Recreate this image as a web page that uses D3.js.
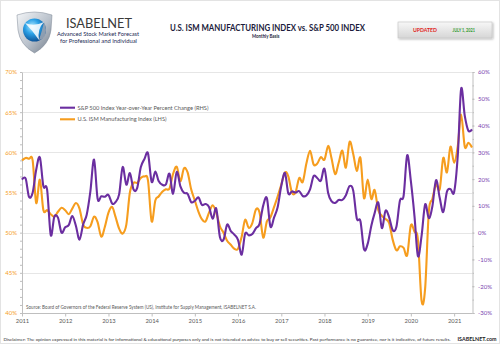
<!DOCTYPE html>
<html><head><meta charset="utf-8">
<script src="https://cdn.jsdelivr.net/npm/d3@7"></script>
<style>
html,body{margin:0;padding:0;background:#fff;}
svg{display:block;font-family:Lato,"Open Sans",sans-serif;}
</style></head><body>
<svg id="c" width="500" height="344"></svg>
<script>
// ---------------- DATA ----------------
const startMonth = "2011-01";
// U.S. ISM Manufacturing Index (LHS), monthly Jan 2011 - Jun 2021
const ismValues = [
  59.0, 59.3, 59.2, 59.0, 53.7, 56.6, 52.8, 52.8, 52.3, 52.0, 52.6, 53.1,
  52.8, 52.3, 53.0, 53.7, 53.0, 51.0, 50.6, 50.8, 52.0, 51.3, 49.5, 50.7,
  52.5, 53.2, 52.0, 50.5, 49.9, 51.0, 55.0, 56.2, 56.2, 56.8, 57.0, 56.5,
  51.4, 54.0, 54.5, 55.1, 55.4, 55.5, 57.3, 58.2, 56.4, 58.0, 57.5, 55.4,
  54.0, 52.6, 51.7, 51.4, 52.5, 53.4, 52.5, 50.8, 50.0, 49.0, 48.5, 48.0,
  48.0, 49.5, 51.6, 50.6, 51.2, 52.9, 52.5, 49.4, 51.4, 51.9, 53.2, 54.5,
  56.0, 57.5, 57.0, 55.0, 55.0, 56.8, 56.3, 58.6, 60.2, 58.5, 58.6, 59.4,
  59.1, 60.8, 59.3, 57.3, 58.7, 60.2, 58.1, 61.3, 59.8, 57.7, 59.3, 54.3,
  56.6, 54.2, 55.3, 52.8, 52.1, 51.7, 51.2, 49.1, 47.8, 48.3, 48.1, 47.2,
  50.9, 50.1, 49.1, 41.5, 43.1, 52.6, 54.2, 56.0, 55.4, 59.3, 57.5, 60.7,
  58.7, 60.8, 64.7, 60.7, 61.2, 60.6
];
// S&P 500 Index Year-over-Year Percent Change (RHS)
const spxYoY = [
  19.8, 20.2, 13.4, 14.9, 23.5, 28.1, 17.3, 16.2, -0.9, 5.9, 5.6, 0.0,
  2.0, 2.9, 6.2, 2.5, -2.6, 3.1, 6.7, 15.4, 27.3, 12.7, 13.6, 13.4,
  14.1, 10.9, 11.4, 14.3, 24.5, 17.9, 22.2, 16.1, 16.7, 24.4, 27.5, 29.6,
  19.0, 22.8, 19.3, 17.9, 18.0, 22.0, 14.5, 22.7, 17.3, 14.9, 14.5, 11.4,
  11.9, 13.2, 10.4, 10.7, 9.6, 5.2, 9.0, -1.6, -2.6, 3.0, 0.6, -0.7,
  -2.7, -8.2, -0.4, -1.0, -0.5, 1.7, 3.3, 10.1, 12.9, 2.3, 5.7, 9.5,
  17.5, 22.3, 14.7, 15.4, 15.0, 15.5, 13.7, 13.9, 16.2, 21.1, 20.4, 19.4,
  23.9, 14.8, 11.8, 11.1, 12.2, 12.2, 14.0, 17.4, 15.7, 5.3, 4.3, -6.2,
  -4.2, 2.6, 7.3, 11.2, 1.7, 8.2, 5.8, 0.9, 2.2, 12.0, 13.8, 28.9,
  19.3, 6.1, -8.8, -1.1, 10.6, 5.4, 9.8, 19.6, 13.0, 7.7, 15.3, 16.3,
  15.2, 29.0, 53.7, 43.6, 38.1, 38.6
];
const yearLabels = ["2011","2012","2013","2014","2015","2016","2017","2018","2019","2020","2021"];
const leftTicks = [40, 45, 50, 55, 60, 65, 70];
const rightTicks = [-30, -20, -10, 0, 10, 20, 30, 40, 50, 60];
const seriesNames = ["S&P 500 Index Year-over-Year Percent Change (RHS)", "U.S. ISM Manufacturing Index (LHS)"];

// ---------------- DRAW ----------------
const svg = d3.select("#c");
const ORANGE = "#f69d1e", PURPLE = "#6b2ea0", AXIS = "#bfbfbf", TXT = "#595959";
const parse = d3.timeParse("%Y-%m");
const d0 = parse(startMonth);
const dates = d3.timeMonth.range(d0, d3.timeMonth.offset(d0, ismValues.length));
const x = d3.scaleTime().domain([d0, dates[dates.length - 1]]).range([22, 472]);
const yL = d3.scaleLinear().domain([40, 70]).range([313, 72]);
const yR = d3.scaleLinear().domain([-30, 60]).range([313, 72]);

const defs = svg.append("defs");
const g1 = defs.append("linearGradient").attr("id","shield").attr("x1",0).attr("y1",0).attr("x2",1).attr("y2",1);
g1.append("stop").attr("offset","0%").attr("stop-color","#f4f6f8");
g1.append("stop").attr("offset","55%").attr("stop-color","#b9c1cb");
g1.append("stop").attr("offset","100%").attr("stop-color","#6f7a88");
const g2 = defs.append("radialGradient").attr("id","ball").attr("cx","40%").attr("cy","35%").attr("r","70%");
g2.append("stop").attr("offset","0%").attr("stop-color","#b5ecff");
g2.append("stop").attr("offset","45%").attr("stop-color","#2aa0e6");
g2.append("stop").attr("offset","100%").attr("stop-color","#0a4a8e");
const g3 = defs.append("linearGradient").attr("id","upd").attr("x1",0).attr("y1",0).attr("x2",0).attr("y2",1);
g3.append("stop").attr("offset","0%").attr("stop-color","#f7f7f7");
g3.append("stop").attr("offset","100%").attr("stop-color","#d6d6d6");
const f = defs.append("filter").attr("id","sh").attr("x","-10%").attr("y","-20%").attr("width","130%").attr("height","160%");
f.append("feDropShadow").attr("dx",1).attr("dy",1).attr("stdDeviation",0.8).attr("flood-color","#000").attr("flood-opacity",0.3);

// outer frame
svg.append("rect").attr("x",0.5).attr("y",0.5).attr("width",499).attr("height",343).attr("fill","none").attr("stroke","#e3e3e3");

// logo
const logo = svg.append("g");
logo.append("path").attr("d","M17,15 Q34.5,9 52,15 L51,30 Q49,45 34.5,53 Q20,45 18,30 Z")
  .attr("fill","url(#shield)").attr("stroke","#7d8794").attr("stroke-width",0.5);
logo.append("circle").attr("cx",34.5).attr("cy",30).attr("r",11.5).attr("fill","url(#ball)");
logo.append("path").attr("d","M25,23 Q34,27 44,22 Q37,29 39,40 Q33,31 25,23 Z").attr("fill","#ffffff").attr("opacity",0.85);
logo.append("path").attr("d","M44,22 Q48,30 44,38 Q40,40 39,40 Q42,31 44,22 Z").attr("fill","#9aa4b1").attr("opacity",0.9);

svg.append("text").attr("x",66).attr("y",28).attr("font-size",13).attr("fill","#3a3a3a")
  .attr("textLength",66).attr("lengthAdjust","spacingAndGlyphs").text("ISABELNET");
svg.append("text").attr("x",57).attr("y",35.8).attr("font-size",6).attr("fill","#1b2a55")
  .attr("textLength",82).attr("lengthAdjust","spacingAndGlyphs").text("Advanced Stock Market Forecast");
svg.append("text").attr("x",60).attr("y",42.6).attr("font-size",6).attr("fill","#1b2a55")
  .attr("textLength",77).attr("lengthAdjust","spacingAndGlyphs").text("for Professional and Individual");

// title
svg.append("text").attr("x",170).attr("y",31).attr("font-size",8.8).attr("font-weight","bold").attr("fill","#1c1c3c")
  .attr("textLength",195).attr("lengthAdjust","spacingAndGlyphs").text("U.S. ISM MANUFACTURING INDEX vs. S&P 500 INDEX");
svg.append("text").attr("x",252).attr("y",37.6).attr("font-size",4.8).attr("font-weight","bold").attr("fill","#1c1c3c")
  .attr("textLength",27.5).attr("lengthAdjust","spacingAndGlyphs").text("Monthly Basis");

// updated box
svg.append("rect").attr("x",398).attr("y",22).attr("width",94).attr("height",16).attr("fill","url(#upd)")
  .attr("stroke","#c4c4c4").attr("stroke-width",0.6).attr("filter","url(#sh)");
svg.append("text").attr("x",413).attr("y",32.2).attr("font-size",5.6).attr("font-weight","bold").attr("fill","#e0241b")
  .attr("textLength",24).attr("lengthAdjust","spacingAndGlyphs").text("UPDATED");
svg.append("text").attr("x",452.5).attr("y",32.2).attr("font-size",5.6).attr("font-weight","bold").attr("fill","#2f9a2f")
  .attr("textLength",22.5).attr("lengthAdjust","spacingAndGlyphs").text("JULY 1, 2021");

// gridlines
svg.append("g").selectAll("line").data(leftTicks.filter(d => d > 40)).join("line")
  .attr("x1",22).attr("x2",472).attr("y1",d => Math.round(yL(d))+0.5).attr("y2",d => Math.round(yL(d))+0.5)
  .attr("stroke","#e6e6e6").attr("stroke-width",1);

// left axis
const la = svg.append("g").attr("transform","translate(22,0)")
  .call(d3.axisLeft(yL).tickValues(leftTicks).tickFormat(d => d + "%").tickSize(0).tickPadding(5));
la.select(".domain").attr("stroke",AXIS);
la.selectAll("text").attr("fill",ORANGE).attr("font-size",6).attr("font-family","Lato,sans-serif");
const lm = svg.append("g").attr("transform","translate(22,0)")
  .call(d3.axisLeft(yL).tickValues(d3.range(40, 71, 1)).tickFormat("").tickSize(2));
lm.select(".domain").remove();
lm.selectAll("line").attr("stroke",AXIS);

// right axis
const ra = svg.append("g").attr("transform","translate(472.5,0)")
  .call(d3.axisRight(yR).tickValues(rightTicks).tickFormat(d => d + "%").tickSize(2).tickPadding(3.5));
ra.select(".domain").attr("stroke",AXIS);
ra.selectAll("line").attr("stroke",AXIS);
ra.selectAll("text").attr("fill","#7a3fb0").attr("font-size",6).attr("font-family","Lato,sans-serif");
const rm = svg.append("g").attr("transform","translate(472.5,0)")
  .call(d3.axisRight(yR).tickValues(d3.range(-30, 61, 5)).tickFormat("").tickSize(1.5));
rm.select(".domain").remove();
rm.selectAll("line").attr("stroke",AXIS);

// bottom axis
const ba = svg.append("g").attr("transform","translate(0,313.5)")
  .call(d3.axisBottom(x).tickValues(yearLabels.map(y => parse(y + "-01"))).tickFormat(d3.timeFormat("%Y")).tickSize(3).tickPadding(2.5));
ba.select(".domain").attr("stroke",AXIS).attr("d","M22,0H472.5");
ba.selectAll("line").attr("stroke",AXIS);
ba.selectAll("text").attr("fill",TXT).attr("font-size",5.8).attr("font-family","Lato,sans-serif");

// lines
const lineL = d3.line().x((d,i) => x(dates[i])).y(d => yL(d)).curve(d3.curveCardinal.tension(0));
const lineR = d3.line().x((d,i) => x(dates[i])).y(d => yR(d)).curve(d3.curveCardinal.tension(0));
svg.append("path").datum(ismValues).attr("d",lineL).attr("fill","none").attr("stroke",ORANGE).attr("stroke-width",2.1).attr("stroke-linejoin","round");
svg.append("path").datum(spxYoY).attr("d",lineR).attr("fill","none").attr("stroke",PURPLE).attr("stroke-width",2.1).attr("stroke-linejoin","round");

// legend
const leg = svg.append("g");
[[PURPLE,107.7,131],[ORANGE,119.3,89]].forEach((s,i) => {
  leg.append("line").attr("x1",60).attr("x2",75).attr("y1",s[1]).attr("y2",s[1]).attr("stroke",s[0]).attr("stroke-width",2.1);
  leg.append("text").attr("x",77.5).attr("y",s[1]+2).attr("font-size",5.8).attr("fill",TXT)
    .attr("textLength",s[2]).attr("lengthAdjust","spacingAndGlyphs").text(seriesNames[i]);
});

// source
svg.append("text").attr("x",26).attr("y",309).attr("font-size",5).attr("fill",TXT)
  .attr("textLength",230).attr("lengthAdjust","spacingAndGlyphs")
  .text("Source: Board of Governors of the Federal Reserve System (US), Institute for Supply Management, ISABELNET S.A.");

// disclaimer
svg.append("text").attr("x",3.5).attr("y",341).attr("font-size",4.3).attr("fill","#333")
  .attr("textLength",447).attr("lengthAdjust","spacingAndGlyphs")
  .text("Disclaimer: The opinion expressed in this material is for informational & educational purposes only and is not intended as advice to buy or sell securities. Past performance is no guarantee, nor is it indicative, of future results.");
svg.append("text").attr("x",457.5).attr("y",341).attr("font-size",5.6).attr("font-weight","bold").attr("fill","#222")
  .attr("textLength",39).attr("lengthAdjust","spacingAndGlyphs").text("ISABELNET.com");
</script>
</body></html>
